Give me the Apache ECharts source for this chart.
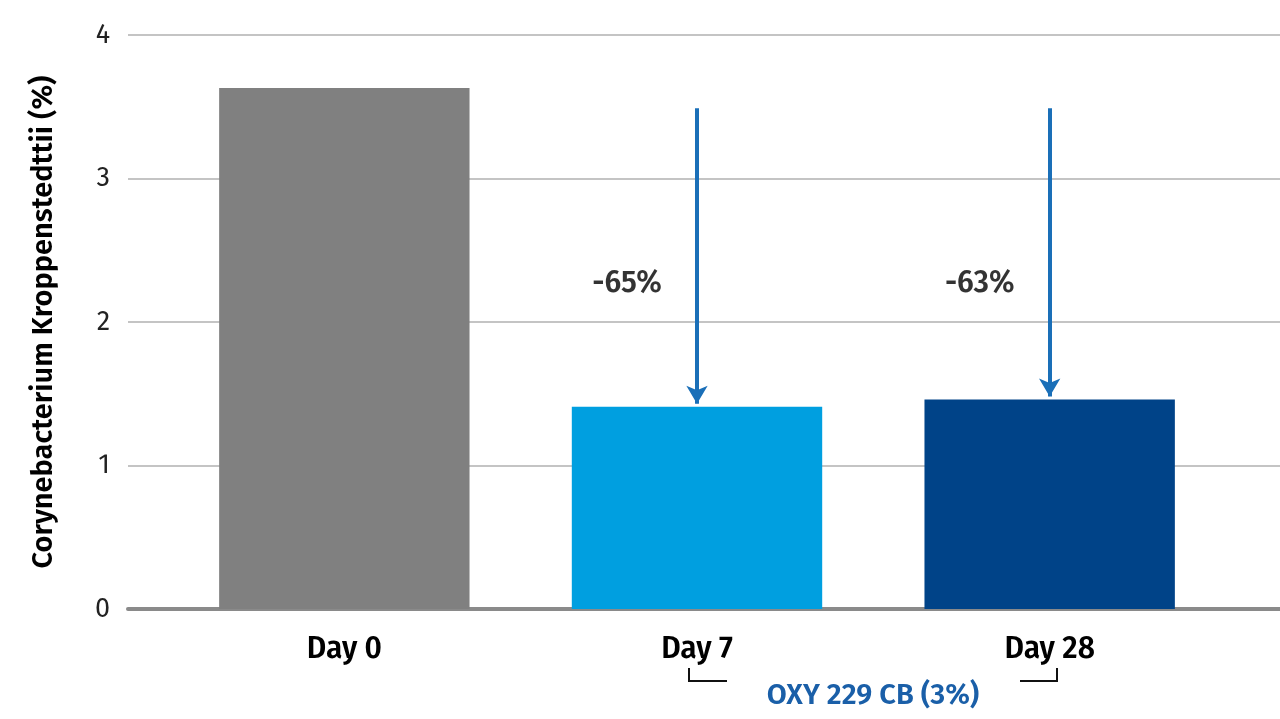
<!DOCTYPE html>
<html><head><meta charset="utf-8">
<script src="https://cdn.jsdelivr.net/npm/echarts@6/dist/echarts.min.js"></script>
<style>html,body{margin:0;padding:0;background:#fff}#c{width:1280px;height:719px}</style>
</head><body><div id="c"></div>
<script>
const categories = ['Day 0', 'Day 7', 'Day 28'];
const values = [3.63, 1.41, 1.46];
const arrowStart = 3.49;
const changeLabels = ['', '-65%', '-63%'];
const changeLabelY = 2.27;
const yTicks = [0, 1, 2, 3, 4];
const groupLabel = 'OXY 229 CB (3%)';
const colors = ['#808080', '#009fe0', '#004388'];

const font = '"Fira Sans","Noto Sans",sans-serif';
const chart = echarts.init(document.getElementById('c'));
const arrowLines = [];
const labelPts = [];
values.forEach((v, i) => {
  if (changeLabels[i]) {
    arrowLines.push([{coord: [categories[i], arrowStart]}, {coord: [categories[i], v + 0.02]}]);
    labelPts.push({value: [categories[i], changeLabelY], label: {formatter: changeLabels[i]}});
  }
});
chart.setOption({
  animation: false,
  grid: [
    {left: 128, right: 0, top: 35, bottom: 110},
    {left: 168, right: 54, top: 35, bottom: 110}
  ],
  xAxis: [
    {gridIndex: 0, type: 'value', min: 0, max: 1, show: true, axisLabel: {show: false}, axisTick: {show: false}, splitLine: {show: false},
      axisLine: {show: true, lineStyle: {color: '#8a8a8a', width: 4}}},
    {gridIndex: 1, type: 'category', data: categories, axisLine: {show: false}, axisTick: {show: false},
      axisLabel: {fontFamily: font, fontSize: 30, fontWeight: 600, color: '#000', margin: 26}}
  ],
  yAxis: [
    {gridIndex: 0, type: 'value', min: 0, max: 4, interval: 1,
      axisLine: {show: false}, axisTick: {show: false},
      axisLabel: {fontFamily: font, fontSize: 27, color: '#222', margin: 18, formatter: v => yTicks.includes(v) ? String(v) : ''},
      splitLine: {lineStyle: {color: '#b0b0b0', width: 1.5}},
      name: 'Corynebacterium Kroppenstedttii (%)', nameLocation: 'middle', nameGap: 70, nameRotate: 90,
      nameTextStyle: {fontFamily: font, fontSize: 29, fontWeight: 600, color: '#000'}},
    {gridIndex: 1, type: 'value', min: 0, max: 4, interval: 1, show: false}
  ],
  series: [
    {type: 'bar', xAxisIndex: 1, yAxisIndex: 1, barWidth: '71%',
      data: values.map((v, i) => ({value: v, itemStyle: {color: colors[i]}})),
      markLine: {silent: true, symbol: ['none', 'arrow'], symbolSize: [16, 18],
        lineStyle: {color: '#1a6fb8', width: 4, type: 'solid'}, label: {show: false}, data: arrowLines}},
    {type: 'scatter', xAxisIndex: 1, yAxisIndex: 1, symbolSize: 0, data: labelPts,
      label: {show: true, position: 'inside', offset: [-70, 0], fontFamily: font, fontSize: 30, fontWeight: 600, color: '#000'}}
  ],
  graphic: [
    {type: 'polyline', shape: {points: [[689, 668], [689, 681], [727, 681]]}, style: {stroke: '#111', lineWidth: 2, fill: null}},
    {type: 'polyline', shape: {points: [[1020, 681], [1057, 681], [1057, 668]]}, style: {stroke: '#111', lineWidth: 2, fill: null}},
    {type: 'text', x: 873, y: 696, style: {text: groupLabel, fontFamily: font, fontSize: 29, fontWeight: 600, fill: '#1a5fa8', textAlign: 'center', textVerticalAlign: 'middle'}}
  ]
});
</script></body></html>
